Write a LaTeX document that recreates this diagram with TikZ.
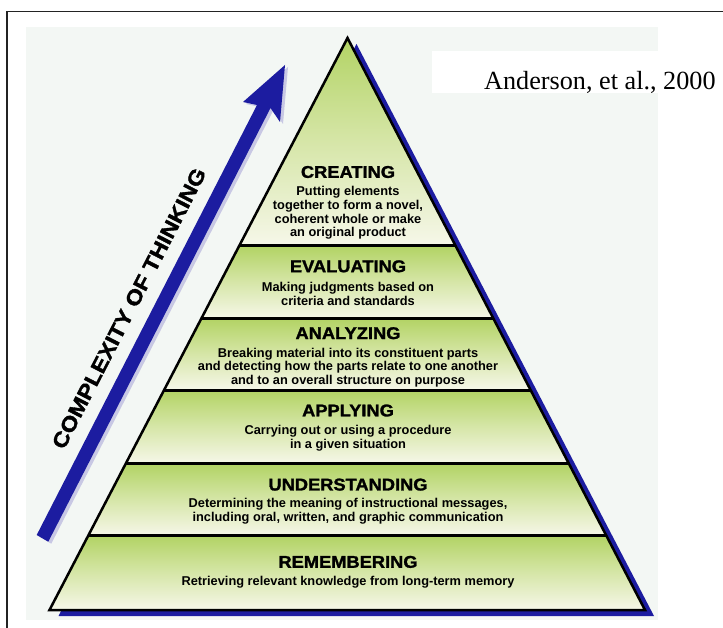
\documentclass[tikz,border=0pt]{standalone}
\usepackage{fontspec}
\usepackage{graphicx}
\setmainfont{Liberation Serif}
\newfontfamily\titlefont{Liberation Sans}[BoldFeatures={FakeBold=1.5}]
\newfontfamily\descfont{Liberation Sans}
\usetikzlibrary{calc}
\definecolor{bggray}{RGB}{243,247,244}
\definecolor{bandgreen}{RGB}{178,211,100}
\definecolor{bandmid}{RGB}{214,230,168}
\definecolor{bandpale}{RGB}{246,247,233}
\definecolor{pyrblue}{RGB}{28,28,160}
\definecolor{arrowshadow}{RGB}{200,200,228}
\definecolor{framegray}{RGB}{35,35,35}
\tikzset{
  titletext/.style={inner sep=0pt, font=\titlefont\bfseries\fontsize{17}{18}\selectfont},
  desctext/.style={inner sep=0pt, align=center, font=\descfont\bfseries\fontsize{12.8}{13.6}\selectfont},
  bandline/.style={line width=3pt, black},
  band/.style={top color=bandgreen, bottom color=bandpale, middle color=bandmid}
}
\newcommand{\ttl}[1]{\scalebox{1.075}[1]{#1}}
\begin{document}
\begin{tikzpicture}[x=1pt,y=-1pt]
\useasboundingbox (0,0) rectangle (723,628);
% frame and background
\fill[white] (0,0) rectangle (723,628);
\fill[bggray] (26,27) rectangle (658,620);
\draw[framegray, line width=1.5pt] (7,640) -- (7,11.5) -- (740,11.5);
% citation box
\fill[white] (432,51) rectangle (723,93);
\node[anchor=base west, inner sep=0pt, font=\fontsize{26.2}{28}\selectfont] (cite) at (484,89.5) {Anderson, et al., 2000};
% pyramid
\coordinate (apex) at (347.5,38);
\coordinate (bl) at (49.5,610);
\coordinate (br) at (645,610);
\fill[pyrblue] ([shift={(9,6)}]apex) -- ([shift={(9,6)}]br) -- ([shift={(9,6)}]bl) -- cycle;
\foreach \ta/\tb [count=\i] in {0/0.3636, 0.3636/0.4904, 0.4904/0.6154, 0.6154/0.7439, 0.7439/0.8698, 0.8698/1} {
  \shade[band] ($(apex)!\ta!(bl)$) -- ($(apex)!\ta!(br)$) -- ($(apex)!\tb!(br)$) -- ($(apex)!\tb!(bl)$) -- cycle;
}
\foreach \t in {0.3636, 0.4904, 0.6154, 0.7439, 0.8698} {
  \draw[bandline] ($(apex)!\t!(bl)$) -- ($(apex)!\t!(br)$);
}
\draw[black, line width=2.5pt, line join=miter] (apex) -- (br) -- (bl) -- cycle;
% texts
\node[titletext] (cre) at (348,172) {\ttl{CREATING}};
\node[desctext] (cred) at (348,213) {Putting elements\\together to form a novel,\\coherent whole or make\\an original product};
\node[titletext] (eva) at (348,266.3) {\ttl{EVALUATING}};
\node[desctext] (evad) at (348,294) {Making judgments based on\\criteria and standards};
\node[titletext] (ana) at (348,333.2) {\ttl{ANALYZING}};
\node[desctext] (anad) at (348,367.5) {Breaking material into its constituent parts\\and detecting how the parts relate to one another\\and to an overall structure on purpose};
\node[titletext] (app) at (348,410.5) {\ttl{APPLYING}};
\node[desctext] (appd) at (348,438) {Carrying out or using a procedure\\in a given situation};
\node[titletext] (und) at (348,484.6) {\ttl{UNDERSTANDING}};
\node[desctext] (undd) at (348,511.5) {Determining the meaning of instructional messages,\\including oral, written, and graphic communication};
\node[titletext] (rem) at (348,561.9) {\ttl{REMEMBERING}};
\node[desctext] (remd) at (348,582.7) {Retrieving relevant knowledge from long-term memory};
% arrow
\coordinate (s1) at (36.7,535);
\coordinate (s2) at (48.3,541.7);
\coordinate (n1) at (257,105);
\coordinate (n2) at (270.5,108);
\coordinate (w1) at (243,102);
\coordinate (w2) at (280,122);
\coordinate (tip) at (285,65);
\fill[arrowshadow] ([shift={(3,2)}]s1) -- ([shift={(3,2)}]n1) -- ([shift={(3,2)}]w1) -- ([shift={(3,2)}]tip) -- ([shift={(3,2)}]w2) -- ([shift={(3,2)}]n2) -- ([shift={(3,2)}]s2) -- cycle;
\fill[pyrblue] (s1) -- (n1) -- (w1) -- (tip) -- (w2) -- (n2) -- (s2) -- cycle;
\node[inner sep=0pt, rotate=62.8, font=\titlefont\bfseries\fontsize{21}{22}\selectfont] (cot) at (129,308.3) {\scalebox{1.12}[1]{COMPLEXITY OF THINKING}};
\end{tikzpicture}
\end{document}
